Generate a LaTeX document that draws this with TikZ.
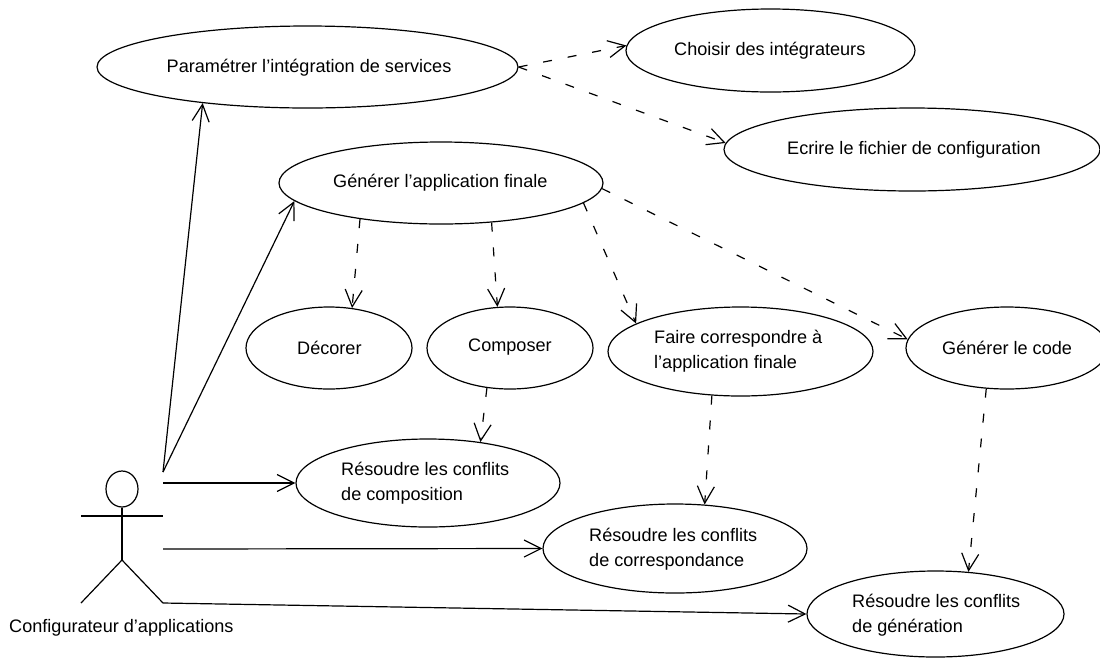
\documentclass[tikz,border=0pt]{standalone}
\usepackage{fontspec}
\setmainfont{Liberation Sans}
\usetikzlibrary{shapes.geometric, arrows.meta}
\tikzset{
    usecase/.style={draw, ellipse, line width=1.2pt, inner sep=0pt},
    txt/.style={anchor=west, align=left, inner sep=0pt, yshift=-2pt, font=\fontsize{18.1pt}{25pt}\selectfont},
    inclus/.style={line width=1.2pt, dash pattern=on 9pt off 16pt, -{Straight Barb[length=17pt,width=17pt,line width=1.2pt]}},
    assoc/.style={line width=1.2pt, -{Straight Barb[length=17pt,width=17pt,line width=1.2pt]}},
    trait/.style={line width=1.2pt},
}
\begin{document}
\begin{tikzpicture}[x=1pt, y=-1pt]
    \useasboundingbox (0, 0) rectangle (1100, 657);
    \node[usecase, minimum width=421pt, minimum height=82pt] (param) at (307.5, 67) {};
    \node[usecase, minimum width=289pt, minimum height=83pt] (choisir) at (770.5, 50.5) {};
    \node[usecase, minimum width=376pt, minimum height=83pt] (ecrire) at (912, 149.5) {};
    \node[usecase, minimum width=324pt, minimum height=82pt] (generer) at (441, 183) {};
    \node[usecase, minimum width=166pt, minimum height=82pt] (decorer) at (329, 348) {};
    \node[usecase, minimum width=166pt, minimum height=82pt] (composer) at (510, 348) {};
    \node[usecase, minimum width=265pt, minimum height=89pt] (faire) at (740.5, 351.5) {};
    \node[usecase, minimum width=202pt, minimum height=82pt] (code) at (1007, 348) {};
    \node[usecase, minimum width=264pt, minimum height=88pt] (rcomp) at (428, 483) {};
    \node[usecase, minimum width=264pt, minimum height=89pt] (rcorr) at (675, 548.5) {};
    \node[usecase, minimum width=257pt, minimum height=86pt] (rgen) at (935.5, 614) {};

    \node[txt] (tparam) at (166.5, 65.5) {Paramétrer l’intégration de services};
    \node[txt] (tchoisir) at (674, 48.5) {Choisir des intégrateurs};
    \node[txt] (tecrire) at (787, 147.5) {Ecrire le fichier de configuration};
    \node[txt] (tgenerer) at (333, 180.5) {Générer l’application finale};
    \node[txt] (tdecorer) at (297, 345.5) {Décorer};
    \node[txt] (tcomposer) at (468, 345.5) {Composer};
    \node[txt] (tfaire) at (654, 349.5) {Faire correspondre à\\l’application finale};
    \node[txt] (tcode) at (942, 345.5) {Générer le code};
    \node[txt] (trcomp) at (341, 481.5) {Résoudre les conflits\\de composition};
    \node[txt] (trcorr) at (589, 547.5) {Résoudre les conflits\\de correspondance};
    \node[txt] (trgen) at (852, 613.5) {Résoudre les conflits\\de génération};

    % acteur
    \node[usecase, minimum width=32pt, minimum height=36pt] (tete) at (122, 489) {};
    \coordinate (bassin) at (122, 560);
    \coordinate (brasg) at (81, 516);
    \coordinate (brasd) at (163, 516);
    \coordinate (piedg) at (81, 603);
    \coordinate (piedd) at (163, 603);
    \draw[trait] (tete) -- (bassin);
    \draw[trait] (brasg) -- (brasd);
    \draw[trait] (piedg) -- (bassin) -- (piedd);
    \node[txt] (acteur) at (9, 626) {Configurateur d’applications};

    \coordinate (a1) at (163, 472);
    \coordinate (a2) at (163, 483);
    \coordinate (a3) at (163, 549);
    \draw[assoc] (a1) -- (param.199.2);
    \draw[assoc] (a1) -- (generer.187.5);
    \draw[assoc] (a2) -- (rcomp.180);
    \draw[assoc] (a3) -- (rcorr.180);
    \draw[assoc] (piedd) -- (rgen.180);

    \draw[inclus] (param.-0.3) -- (choisir.178);
    \draw[inclus] (param.-0.3) -- (ecrire.178);
    \draw[inclus] (generer.204.8) -- (decorer.60.9);
    \draw[inclus] (generer.-38.5) -- (composer.107.8);
    \draw[inclus] (generer.-8) -- (faire.165.7);
    \draw[inclus] (generer.-2.8) -- (code.175.3);
    \draw[inclus] (composer.-120.3) -- (rcomp.38.5);
    \draw[inclus] (faire.-123.2) -- (rcorr.56.2);
    \draw[inclus] (code.-117.6) -- (rgen.52);
\end{tikzpicture}
\end{document}
